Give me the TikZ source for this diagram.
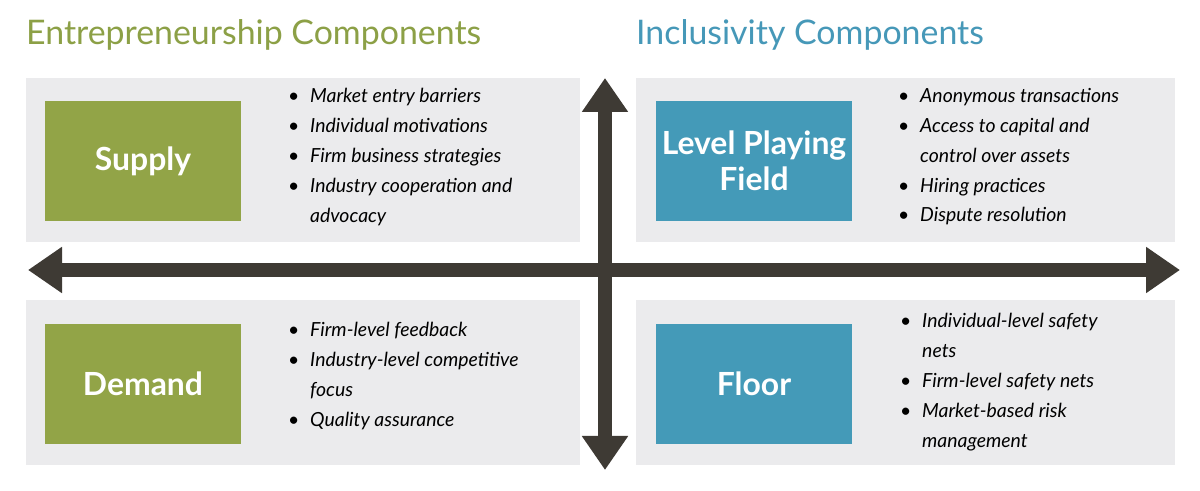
\documentclass[tikz,border=0pt]{standalone}
\usepackage{fontspec}
\setmainfont{Lato}
\usetikzlibrary{arrows.meta}
\definecolor{grn}{RGB}{146,164,71}
\definecolor{blu}{RGB}{68,154,184}
\definecolor{pnl}{RGB}{235,235,237}
\definecolor{arr}{RGB}{62,58,52}
\definecolor{tgrn}{RGB}{140,160,70}
\definecolor{tblu}{RGB}{70,152,184}
\tikzset{
 panel/.style={fill=pnl,draw=none},
 gbox/.style={fill=grn,draw=none,text=white,font=\fontsize{32}{36}\selectfont\bfseries,align=center,minimum width=196bp,minimum height=120bp,inner sep=0},
 bbox/.style={gbox,fill=blu},
 blist/.style={anchor=north west,font=\fontsize{19.5}{30}\selectfont\itshape,align=left,inner sep=0},
 axis/.style={draw=arr,line width=14bp,-{Triangle[length=34bp,width=44bp]}},
 ttl/.style={anchor=west,font=\fontsize{34}{38}\selectfont,inner sep=0}
}
\newcommand{\itm}[1]{\hbox to 22bp{\textbullet\hfil}#1}
\newcommand{\itmc}[1]{\hbox to 22bp{\hfil}#1}
\begin{document}
\begin{tikzpicture}[x=1bp,y=-1bp]
\useasboundingbox (0,0) rectangle (1200,491);
\fill[white] (0,0) rectangle (1200,491);
\node[ttl,text=tgrn] (t1) at (26,35) {Entrepreneurship Components};
\node[ttl,text=tblu] (t2) at (636,35) {Inclusivity Components};
\fill[panel] (26,78) rectangle (580,242);
\fill[panel] (26,300) rectangle (580,465);
\fill[panel] (636,78) rectangle (1175,242);
\fill[panel] (636,300) rectangle (1175,465);
\node[gbox] (s) at (143,161) {Supply};
\node[gbox] (d) at (143,384) {Demand};
\node[bbox] (l) at (754,161) {Level Playing\\Field};
\node[bbox] (f) at (754,384) {Floor};
\node[blist] (sl) at (288,88) {\itm{Market entry barriers}\\\itm{Individual motivations}\\\itm{Firm business strategies}\\\itm{Industry cooperation and}\\\itmc{advocacy}};
\node[blist] (dl) at (288,322) {\itm{Firm-level feedback}\\\itm{Industry-level competitive}\\\itmc{focus}\\\itm{Quality assurance}};
\node[blist] (ll) at (898,88) {\itm{Anonymous transactions}\\\itm{Access to capital and}\\\itmc{control over assets}\\\itm{Hiring practices}\\\itm{Dispute resolution}};
\node[blist] (fl) at (900,313) {\itm{Individual-level safety}\\\itmc{nets}\\\itm{Firm-level safety nets}\\\itm{Market-based risk}\\\itmc{management}};
\coordinate (c) at (605,270);
\coordinate (le) at (28,270);
\coordinate (re) at (1180,270);
\coordinate (te) at (605,78);
\coordinate (be) at (605,470);
\draw[axis] (c) -- (le);
\draw[axis] (c) -- (re);
\draw[axis] (c) -- (te);
\draw[axis] (c) -- (be);
\end{tikzpicture}
\end{document}
